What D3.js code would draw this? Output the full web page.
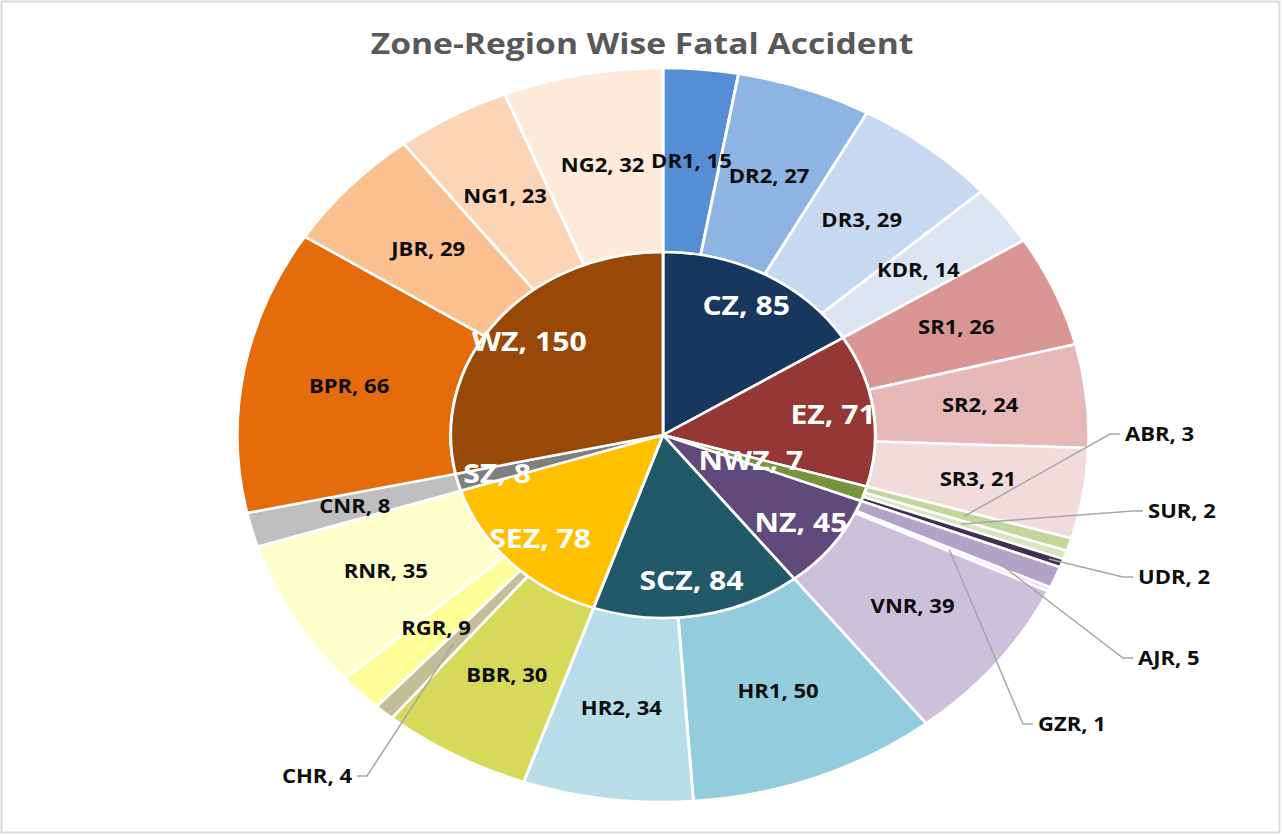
<!DOCTYPE html>
<html>
<head>
<meta charset="utf-8">
<script src="https://cdn.jsdelivr.net/npm/d3@7"></script>
<style>
  body { margin: 0; background: #fff; }
  text { font-family: "Open Sans", sans-serif; font-weight: 700; }
</style>
</head>
<body>
<script>
// Zone (inner ring) data
const zones = ["CZ", "EZ", "NWZ", "NZ", "SCZ", "SEZ", "SZ", "WZ"];
const zoneValues = [85, 71, 7, 45, 84, 78, 8, 150];
const zoneColors = ["#17375E", "#953735", "#77933C", "#604A7B", "#215968", "#FFC000", "#7F7F7F", "#984807"];

// Region (outer ring) data, in the same clockwise order as the zones
const regions = ["DR1", "DR2", "DR3", "KDR", "SR1", "SR2", "SR3", "ABR", "SUR", "UDR", "AJR", "GZR", "VNR",
  "HR1", "HR2", "BBR", "CHR", "RGR", "RNR", "CNR", "BPR", "JBR", "NG1", "NG2"];
const regionZones = ["CZ", "CZ", "CZ", "CZ", "EZ", "EZ", "EZ", "NWZ", "NWZ", "NWZ", "NZ", "NZ", "NZ",
  "SCZ", "SCZ", "SEZ", "SEZ", "SEZ", "SEZ", "SZ", "WZ", "WZ", "WZ", "WZ"];
const regionValues = [15, 27, 29, 14, 26, 24, 21, 3, 2, 2, 5, 1, 39, 50, 34, 30, 4, 9, 35, 8, 66, 29, 23, 32];
const regionColors = ["#558ED5", "#8DB4E2", "#C6D9F1", "#DCE6F2", "#D99694", "#E6B9B8", "#F2DCDB",
  "#C3D69B", "#D7E4BD", "#403152", "#B3A2C7", "#E6E0EC", "#CCC1DA", "#93CDDD", "#B7DEE8",
  "#D7D95B", "#C4BD97", "#FFFF99", "#FFFFCC", "#BFBFBF", "#E46C0A", "#FAC090", "#FBD5B5", "#FDEADA"];

// small slices labelled outside with a leader line (label point in page px)
const callouts = {
  ABR: { lx: 1110, ly: 434, r: 272, side: 1 },
  SUR: { lx: 1133, ly: 511, r: 272, side: 1 },
  UDR: { lx: 1123, ly: 577, r: 355, side: 1 },
  AJR: { lx: 1123, ly: 658, r: 300, side: 1 },
  GZR: { lx: 1023, ly: 724, r: 272, side: 1 },
  CHR: { lx: 367, ly: 776, r: 276, side: -1 }
};
const zoneLabelR = { NWZ: 80 };

const width = 1282, height = 835;
const cx = 663, cy = 435, sx = 1.16;
const rInner = 183, rOuter = 367;

const svg = d3.select("body").append("svg")
  .attr("width", width)
  .attr("height", height);

svg.append("rect")
  .attr("x", 1.5).attr("y", 1.5)
  .attr("width", width - 4).attr("height", height - 4)
  .attr("fill", "#fff")
  .attr("stroke", "#d9d9d9")
  .attr("stroke-width", 2);

svg.append("text")
  .attr("transform", `translate(642,44) scale(${sx},1)`)
  .attr("text-anchor", "middle")
  .attr("dy", "0.35em")
  .style("font-size", "29px")
  .style("fill", "#595959")
  .text("Zone-Region Wise Fatal Accident");

const pie = d3.pie().sort(null).value(d => d.value);
const zoneArcs = pie(zones.map((z, i) => ({ name: z, value: zoneValues[i], color: zoneColors[i] })));
const regionArcs = pie(regions.map((r, i) => ({ name: r, zone: regionZones[i], value: regionValues[i], color: regionColors[i] })));

const arcInner = d3.arc().innerRadius(0).outerRadius(rInner);
const arcOuter = d3.arc().innerRadius(rInner).outerRadius(rOuter);

const g = svg.append("g")
  .attr("transform", `translate(${cx},${cy}) scale(${sx},1)`);

g.selectAll(".outer")
  .data(regionArcs)
  .enter()
  .append("path")
  .attr("class", "outer")
  .attr("d", arcOuter)
  .attr("fill", d => d.data.color)
  .attr("stroke", "#fff")
  .attr("stroke-width", 2.5);

g.selectAll(".inner")
  .data(zoneArcs)
  .enter()
  .append("path")
  .attr("class", "inner")
  .attr("d", arcInner)
  .attr("fill", d => d.data.color)
  .attr("stroke", "#fff")
  .attr("stroke-width", 2.5);

// page position of a point at angle a, radius r
function pt(a, r) {
  return [cx + sx * r * Math.sin(a), cy - r * Math.cos(a)];
}
const mid = d => (d.startAngle + d.endAngle) / 2;

// zone labels
svg.selectAll(".zlabel")
  .data(zoneArcs)
  .enter()
  .append("text")
  .attr("class", "zlabel")
  .attr("transform", d => {
    const p = pt(mid(d), zoneLabelR[d.data.name] || 148);
    return `translate(${p[0]},${p[1]}) scale(${sx},1)`;
  })
  .attr("text-anchor", "middle")
  .attr("dy", "0.36em")
  .style("font-size", "26px")
  .style("fill", "#fff")
  .text(d => `${d.data.name}, ${d.data.value}`);

// region labels inside the ring
svg.selectAll(".rlabel")
  .data(regionArcs.filter(d => !callouts[d.data.name]))
  .enter()
  .append("text")
  .attr("class", "rlabel")
  .attr("transform", d => {
    const p = pt(mid(d), (rInner + rOuter) / 2);
    return `translate(${p[0]},${p[1]}) scale(${sx},1)`;
  })
  .attr("text-anchor", "middle")
  .attr("dy", "0.36em")
  .style("font-size", "19px")
  .style("fill", "#0d0d0d")
  .text(d => `${d.data.name}, ${d.data.value}`);

// callout labels with leader lines
const outside = regionArcs.filter(d => callouts[d.data.name]);

svg.selectAll(".leader")
  .data(outside)
  .enter()
  .append("path")
  .attr("class", "leader")
  .attr("d", d => {
    const c = callouts[d.data.name];
    const p = pt(mid(d), c.r);
    return `M${p[0]},${p[1]} L${c.lx},${c.ly} L${c.lx + c.side * 10},${c.ly}`;
  })
  .attr("fill", "none")
  .attr("stroke", "#a6a6a6")
  .attr("stroke-width", 1.5);

svg.selectAll(".clabel")
  .data(outside)
  .enter()
  .append("text")
  .attr("class", "clabel")
  .attr("transform", d => {
    const c = callouts[d.data.name];
    return `translate(${c.lx + c.side * 15},${c.ly}) scale(${sx},1)`;
  })
  .attr("text-anchor", d => callouts[d.data.name].side > 0 ? "start" : "end")
  .attr("dy", "0.36em")
  .style("font-size", "19px")
  .style("fill", "#0d0d0d")
  .text(d => `${d.data.name}, ${d.data.value}`);
</script>
</body>
</html>
